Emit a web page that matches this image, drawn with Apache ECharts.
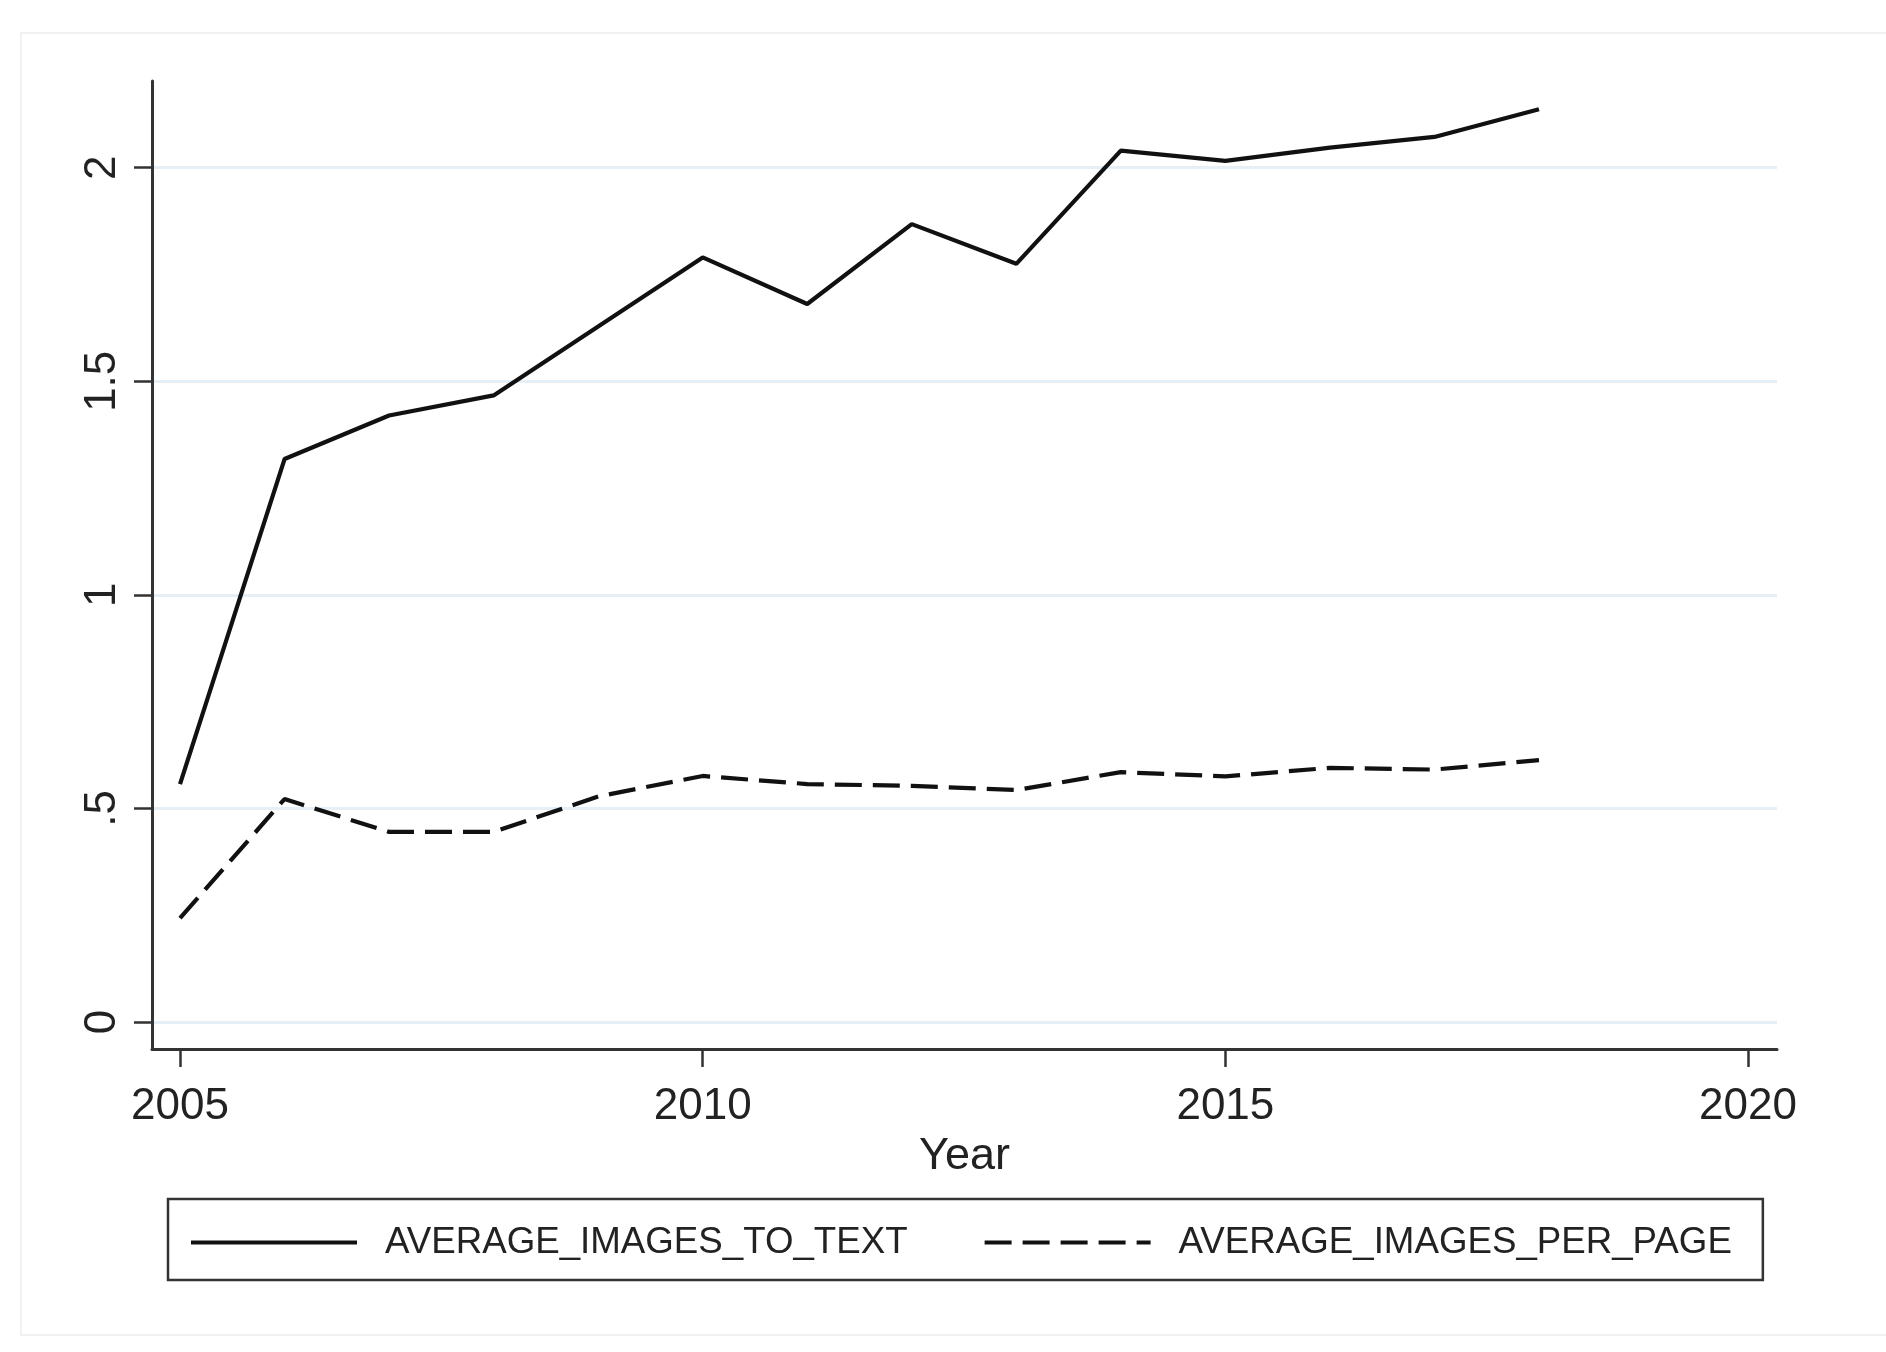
<!DOCTYPE html>
<html>
<head>
<meta charset="utf-8">
<script src="https://cdn.jsdelivr.net/npm/echarts@6/dist/echarts.min.js"></script>
<style>
html,body{margin:0;padding:0;background:#fff;}
#chart{width:1886px;height:1352px;}
</style>
</head>
<body>
<div id="chart"></div>
<script>
// ---- data ----
const years = [2005, 2006, 2007, 2008, 2009, 2010, 2011, 2012, 2013, 2014, 2015, 2016, 2017, 2018];
const imagesToText = [0.557, 1.318, 1.420, 1.467, 1.628, 1.790, 1.681, 1.868, 1.775, 2.040, 2.016, 2.047, 2.072, 2.137];
const imagesPerPage = [0.243, 0.522, 0.445, 0.445, 0.528, 0.576, 0.557, 0.553, 0.543, 0.585, 0.575, 0.595, 0.591, 0.613];
const seriesNames = ['AVERAGE_IMAGES_TO_TEXT', 'AVERAGE_IMAGES_PER_PAGE'];
const xTickValues = [2005, 2010, 2015, 2020];
const yTickValues = [0, 0.5, 1, 1.5, 2];
const yTickLabels = ['0', '.5', '1', '1.5', '2'];
const xAxisTitle = 'Year';

const FONT = "'Liberation Sans', Arial, Helvetica, sans-serif";
const chart = echarts.init(document.getElementById('chart'), null, {renderer: 'canvas'});

function pairs(vals) { return years.map((y, i) => [y, vals[i]]); }

const option = {
  animation: false,
  backgroundColor: '#ffffff',
  graphic: [{
    type: 'rect',
    shape: {x: 21, y: 33, width: 1900, height: 1302},
    style: {fill: 'none', stroke: '#f1f1f1', lineWidth: 2},
    silent: true, z: -10
  }],
  grid: {left: 152, right: 109, top: 81, bottom: 303, containLabel: false},
  xAxis: {
    type: 'value',
    min: 2004.732,
    max: 2020.277,
    name: xAxisTitle,
    nameLocation: 'middle',
    nameGap: 73,
    nameTextStyle: {fontFamily: FONT, fontSize: 45, color: '#222'},
    axisLine: {show: true, onZero: false, lineStyle: {color: '#333', width: 3}},
    axisTick: {show: true, length: 18, customValues: xTickValues, lineStyle: {color: '#333', width: 2.5}},
    axisLabel: {show: true, customValues: xTickValues, margin: 36, fontFamily: FONT, fontSize: 44, color: '#222',
      formatter: v => String(v)},
    splitLine: {show: false}
  },
  yAxis: {
    type: 'value',
    min: -0.0632,
    max: 2.203,
    axisLine: {show: true, onZero: false, lineStyle: {color: '#333', width: 3}},
    axisTick: {show: true, length: 18, customValues: yTickValues, lineStyle: {color: '#333', width: 2.5}},
    axisLabel: {show: true, customValues: yTickValues, rotate: 90, margin: 27, fontFamily: FONT, fontSize: 44, color: '#222',
      formatter: v => { const i = yTickValues.findIndex(t => Math.abs(t - v) < 1e-9); return i >= 0 ? yTickLabels[i] : ''; }},
    splitLine: {show: true, lineStyle: {color: '#e6eff5', width: 3}}
  },
  legend: {
    show: true,
    left: 168,
    top: 1199,
    orient: 'horizontal',
    padding: [25, 31, 19, 21],
    itemWidth: 166,
    itemHeight: 20,
    itemGap: 75,
    borderColor: '#333',
    borderWidth: 2.5,
    borderRadius: 0,
    itemStyle: {opacity: 0},
    lineStyle: {width: 4},
    textStyle: {fontFamily: FONT, fontSize: 36.7, color: '#222', padding: [0, 0, 0, 23]},
    data: seriesNames
  },
  series: [
    {
      name: seriesNames[0],
      type: 'line',
      data: pairs(imagesToText),
      symbol: 'none',
      showSymbol: false,
      lineStyle: {color: '#111', width: 4.2, type: 'solid'},
      itemStyle: {color: '#111'}
    },
    {
      name: seriesNames[1],
      type: 'line',
      data: pairs(imagesPerPage),
      symbol: 'none',
      showSymbol: false,
      lineStyle: {color: '#111', width: 4.2, type: [27, 11]},
      itemStyle: {color: '#111'}
    }
  ]
};
chart.setOption(option);
</script>
</body>
</html>
